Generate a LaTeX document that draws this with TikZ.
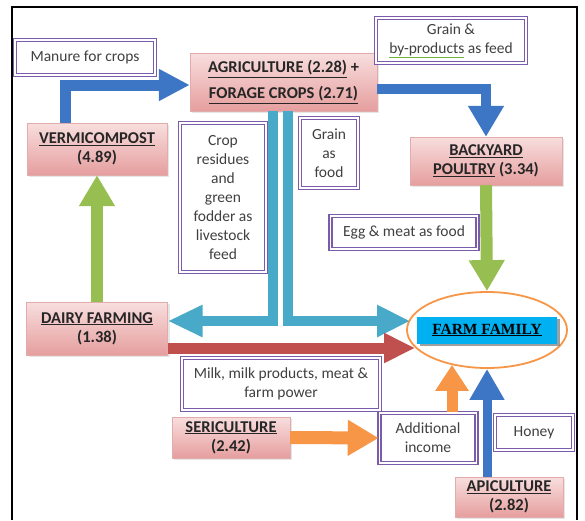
\documentclass[tikz,border=0pt]{standalone}
\usepackage{fontspec}
\setmainfont{Carlito}
\newfontfamily\famfont{Liberation Serif}
\usetikzlibrary{arrows.meta,shadows,shapes.geometric}

\definecolor{pinktop}{RGB}{248,222,222}
\definecolor{pinkbot}{RGB}{230,158,158}
\definecolor{pinkedge}{RGB}{226,172,172}
\definecolor{boxpurple}{RGB}{122,92,170}
\definecolor{txtgray}{RGB}{64,64,64}
\definecolor{arrblue}{RGB}{62,118,198}
\definecolor{arrgreen}{RGB}{150,190,80}
\definecolor{arrcyan}{RGB}{72,170,200}
\definecolor{arrred}{RGB}{192,80,77}
\definecolor{arrorange}{RGB}{247,150,70}
\definecolor{famblue}{RGB}{0,176,240}
\definecolor{spellgreen}{RGB}{110,180,60}

\tikzset{
  sector/.style={rectangle, inner sep=2pt, top color=pinktop, bottom color=pinkbot, draw=pinkedge,
    align=center, text=black!85, font=\bfseries\fontsize{16.5}{19}\selectfont,
    drop shadow={opacity=0.2, shadow xshift=2pt, shadow yshift=-2pt}},
  flowlabel/.style={rectangle, inner sep=2pt, draw=boxpurple, line width=1.6pt, double=white,
    double distance=1.1pt, fill=white, align=center, text=txtgray, font=\fontsize{15.5}{19}\selectfont},
  flow/.style={line width=11pt, line join=miter, -{Triangle[length=31pt,width=34pt]}},
}

\begin{document}
\begin{tikzpicture}[x=1pt,y=-1pt]
\useasboundingbox (0,0) rectangle (585,520);
\draw[line width=1.2pt] (12,520) -- (12,7) -- (577,7) -- (577,520);

% sectors
\node[sector, minimum width=187pt, minimum height=58pt] (agri) at (283.5,82) {\underline{AGRICULTURE (2.28)} +\\[7pt]\underline{FORAGE CROPS (2.71)}};
\node[sector, minimum width=140pt, minimum height=52pt] (verm) at (97,149) {\underline{VERMICOMPOST}\\(4.89)};
\node[sector, minimum width=152pt, minimum height=48pt] (poultry) at (486,161) {\underline{BACKYARD}\\\underline{POULTRY} (3.34)};
\node[sector, minimum width=141pt, minimum height=53pt] (dairy) at (97,328.5) {\underline{DAIRY FARMING}\\(1.38)};
\node[sector, minimum width=118pt, minimum height=41pt] (seri) at (231,437.5) {\underline{SERICULTURE}\\(2.42)};
\node[sector, minimum width=108pt, minimum height=40pt] (api) at (509,497) {\underline{APICULTURE}\\(2.82)};

% farm family
\node[ellipse, draw=arrorange, line width=1.8pt, fill=white, minimum width=160pt, minimum height=76pt, inner sep=0pt] (family) at (487,330) {};
\node[rectangle, fill=famblue, minimum width=140pt, minimum height=27pt, inner sep=0pt,
  font=\famfont\bfseries\fontsize{15.5}{17}\selectfont,
  drop shadow={opacity=0.75, shadow xshift=2.5pt, shadow yshift=-2.5pt}] (famtext) at (family.center) {\underline{FARM FAMILY}};

% flow labels
\node[flowlabel, minimum width=140pt, minimum height=35pt] (manure) at (85,57.5) {Manure for crops};
\node[flowlabel, minimum width=150pt, minimum height=45pt] (grainfeed) at (451,40.5) {Grain \&\\{\color{spellgreen}\underline{{\color{txtgray}by-products}}} as feed};
\node[flowlabel, minimum width=86pt, minimum height=149pt] (residues) at (223,197.5) {Crop\\residues\\and\\green\\fodder as\\livestock\\feed};
\node[flowlabel, minimum width=58pt, minimum height=70pt] (grainfood) at (329,153) {Grain\\as\\food};
\node[flowlabel, minimum width=147pt, minimum height=33pt] (egg) at (404,232.5) {Egg \& meat as food};
\node[flowlabel, minimum width=198pt, minimum height=52pt] (milk) at (281,384) {Milk, milk products, meat \&\\farm power};
\node[flowlabel, minimum width=97pt, minimum height=50pt] (addinc) at (428,438) {Additional\\income};
\node[flowlabel, minimum width=78pt, minimum height=35pt] (honey) at (534,432.5) {Honey};

% flows
\draw[flow, arrblue, -{Triangle[length=31pt,width=30pt]}] ([xshift=-32pt]verm.north) |- ([yshift=-3pt]agri.west);
\draw[flow, arrblue, line width=10pt] ([yshift=-7pt]agri.east) -| (poultry.north);
\draw[flow, arrgreen, line width=12pt] (dairy.north) -- (verm.south);
\draw[flow, arrgreen, line width=12pt] (poultry.south) -- (family.north);
\draw[flow, arrcyan, line width=10pt, -{Triangle[length=35pt,width=30pt]}] ([xshift=-10.5pt]agri.south) |- ([yshift=7.5pt]dairy.east);
\draw[flow, arrcyan, line width=10pt, -{Triangle[length=33pt,width=30pt]}] ([xshift=4.5pt]agri.south) |- ([xshift=4pt,yshift=9pt]family.west);
\draw[flow, arrred, -{Triangle[length=31pt,width=28pt]}] ([yshift=-19.5pt]dairy.east) -- ([xshift=9pt,yshift=-18pt]family.west);
\draw[flow, arrorange, line width=13pt] (seri.east) -- (addinc.west);
\draw[flow, arrorange, -{Triangle[length=26pt,width=32pt]}] ([xshift=24pt]addinc.north) -- ([xshift=-35pt,yshift=4pt]family.south);
\draw[flow, arrblue, line width=9pt, -{Triangle[length=31pt,width=33pt]}] ([xshift=-22pt]api.north) -- (family.south);
\end{tikzpicture}
\end{document}
